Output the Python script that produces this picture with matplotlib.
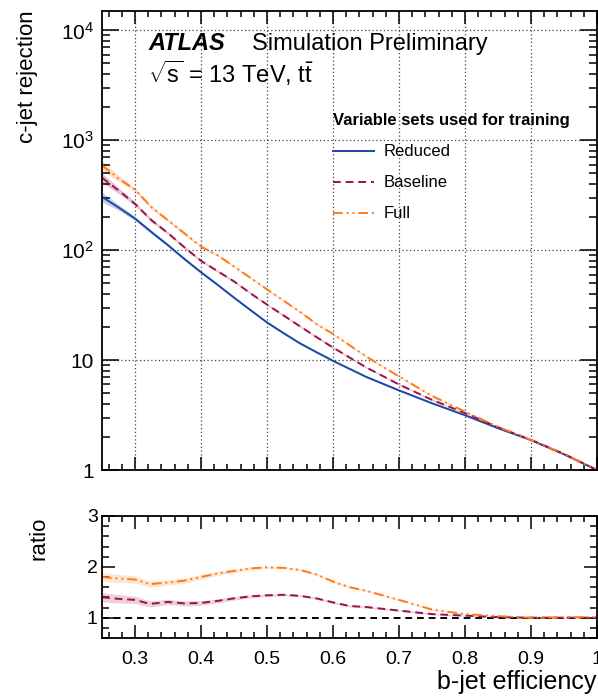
import numpy as np
import matplotlib
matplotlib.use("Agg")
from matplotlib import pyplot as plt
from matplotlib import ticker

plt.rcParams['font.family'] = ['Liberation Sans', 'DejaVu Sans']
plt.rcParams['mathtext.fontset'] = 'custom'
plt.rcParams['mathtext.rm'] = 'Liberation Sans'
plt.rcParams['mathtext.it'] = 'Liberation Sans:italic'
plt.rcParams['mathtext.bf'] = 'Liberation Sans:bold'

# c-jet rejection vs b-jet efficiency
eff = [0.25, 0.275, 0.30, 0.325, 0.35, 0.375, 0.40, 0.425, 0.45, 0.475, 0.50, 0.525,
       0.55, 0.575, 0.60, 0.65, 0.70, 0.75, 0.80, 0.85, 0.90, 0.95, 1.0]
rej_reduced = [305, 245, 194, 146, 111, 83, 63, 48.5, 37, 28.5, 22.0, 17.6,
               14.2, 11.8, 9.85, 7.05, 5.3, 4.05, 3.15, 2.40, 1.87, 1.39, 1.0]
rej_baseline = [456, 350, 264, 187, 143, 106, 80, 64.5, 52, 40.5, 32, 25.5,
                20.3, 16.2, 13.0, 8.6, 6.0, 4.35, 3.3, 2.45, 1.88, 1.40, 1.0]
rej_full = [590, 450, 355, 246, 187, 142, 108, 90, 71, 56, 44, 34.8,
            27.5, 21.3, 17.3, 10.8, 7.1, 4.72, 3.4, 2.47, 1.88, 1.40, 1.0]
# relative stat. uncertainty shown as a thin band
rel_err = [0.10, 0.06, 0.04, 0.035, 0.03, 0.03, 0.025, 0.025, 0.02, 0.02, 0.02, 0.02,
           0.02, 0.02, 0.02, 0.015, 0.015, 0.015, 0.01, 0.01, 0.01, 0.01, 0.01]

# ratio to Reduced
eff_r = [0.25, 0.275, 0.30, 0.3225, 0.35, 0.375, 0.40, 0.425, 0.45, 0.475, 0.50, 0.525,
         0.55, 0.575, 0.60, 0.625, 0.65, 0.70, 0.75, 0.80, 0.85, 0.90, 0.95, 1.0]
ratio_baseline = [1.40, 1.37, 1.35, 1.27, 1.31, 1.28, 1.29, 1.33, 1.38, 1.42, 1.44, 1.45,
                  1.43, 1.38, 1.30, 1.23, 1.21, 1.14, 1.07, 1.04, 1.01, 1.00, 1.00, 1.00]
ratio_full = [1.80, 1.77, 1.75, 1.66, 1.69, 1.73, 1.80, 1.87, 1.92, 1.97, 1.99, 1.98,
              1.94, 1.85, 1.71, 1.60, 1.53, 1.35, 1.16, 1.07, 1.03, 1.00, 1.01, 1.01]
ratio_err = [0.09, 0.08, 0.07, 0.06, 0.05, 0.05, 0.045, 0.04, 0.035, 0.03, 0.025, 0.02,
             0.02, 0.02, 0.02, 0.02, 0.02, 0.015, 0.015, 0.01, 0.01, 0.01, 0.01, 0.01]

c_red = '#1b48a6'
c_base = '#9c124a'
c_full = '#ff7a14'

eff = np.array(eff)
rel_err = np.array(rel_err)
eff_r = np.array(eff_r)
ratio_err = np.array(ratio_err)

fig = plt.figure(figsize=(5.98, 6.98), dpi=100)
ax = fig.add_axes([102/598, 228/698, 495/598, 459/698])
axr = fig.add_axes([102/598, 60/698, 495/598, 122/698])

# main panel
for vals, col, ls, lab in [(rej_reduced, c_red, '-', 'Reduced'),
                           (rej_baseline, c_base, (0, (4, 2.5)), 'Baseline'),
                           (rej_full, c_full, (0, (5, 2, 1, 2, 1, 2)), 'Full')]:
    v = np.array(vals)
    ax.fill_between(eff, v*(1-rel_err), v*(1+rel_err), color=col, alpha=0.25, lw=0)
    ax.plot(eff, v, color=col, ls=ls, lw=1.4, label=lab)

ax.set_yscale('log')
ax.set_xlim(0.25, 1.0)
ax.set_ylim(1, 1.5e4)
ax.yaxis.set_major_locator(ticker.FixedLocator([1, 10, 100, 1000, 10000]))
ax.yaxis.set_major_formatter(ticker.FixedFormatter(['1', '10', r'$\mathrm{10^{2}}$',
                                                    r'$\mathrm{10^{3}}$', r'$\mathrm{10^{4}}$']))
ax.yaxis.set_minor_locator(ticker.LogLocator(base=10, subs=np.arange(2, 10)))
ax.yaxis.set_minor_formatter(ticker.NullFormatter())
ax.xaxis.set_major_locator(ticker.MultipleLocator(0.1))
ax.xaxis.set_minor_locator(ticker.MultipleLocator(0.02))
ax.tick_params(axis='x', labelbottom=False)
ax.grid(True, which='major', color='#444444', ls=(0, (1, 2)), lw=0.9)

# ratio panel
axr.fill_between(eff_r, np.array(ratio_baseline)-ratio_err, np.array(ratio_baseline)+ratio_err,
                 color=c_base, alpha=0.2, lw=0)
axr.fill_between(eff_r, np.array(ratio_full)-ratio_err, np.array(ratio_full)+ratio_err,
                 color=c_full, alpha=0.2, lw=0)
axr.axhline(1, color='black', ls=(0, (3.5, 2.5)), lw=1.4)
axr.plot(eff_r, ratio_baseline, color=c_base, ls=(0, (4, 2.5)), lw=1.4)
axr.plot(eff_r, ratio_full, color=c_full, ls=(0, (5, 2, 1, 2, 1, 2)), lw=1.4)
axr.set_xlim(0.25, 1.0)
axr.set_ylim(0.6, 3)
axr.yaxis.set_major_locator(ticker.FixedLocator([1, 2, 3]))
axr.yaxis.set_minor_locator(ticker.MultipleLocator(0.2))
axr.xaxis.set_major_locator(ticker.MultipleLocator(0.1))
axr.xaxis.set_minor_locator(ticker.MultipleLocator(0.02))
axr.xaxis.set_major_formatter(ticker.FuncFormatter(lambda v, p: '%g' % round(v, 2)))

for a in (ax, axr):
    for s in a.spines.values():
        s.set_linewidth(1.3)
    a.tick_params(which='both', direction='in', top=True, right=True, width=1.1)
    a.tick_params(axis='x', which='major', length=9.5, labelsize=14, pad=9)
    a.tick_params(axis='x', which='minor', length=4.5)
ax.tick_params(axis='y', which='major', length=12, labelsize=15, pad=6)
ax.tick_params(axis='y', which='minor', length=6)
axr.tick_params(axis='y', which='major', length=9.5, labelsize=14, pad=3)
axr.tick_params(axis='y', which='minor', length=5)

# labels
fig.text(27/598, 1 - 10/698, 'c-jet rejection', rotation=90, ha='center', va='top', fontsize=16)
fig.text(39/598, 1 - 517/698, 'ratio', rotation=90, ha='center', va='top', fontsize=16)
fig.text(596/598, 1 - 670/698, 'b-jet efficiency', ha='right', va='top', fontsize=18)

ax.text(0.093, 0.915, 'ATLAS', transform=ax.transAxes, fontsize=17,
        fontweight='bold', fontstyle='italic', va='baseline')
ax.text(0.303, 0.915, 'Simulation Preliminary', transform=ax.transAxes, fontsize=17, va='baseline')
ax.text(0.093, 0.843, r'$\sqrt{\mathrm{s}}$ = 13 TeV, $\mathrm{t\bar{t}}$', transform=ax.transAxes,
        fontsize=17, va='baseline')

leg = ax.legend(loc='upper left', bbox_to_anchor=(0.466, 0.777), frameon=False, fontsize=12,
                title='Variable sets used for training',
                title_fontproperties={'weight': 'bold', 'size': 12},
                alignment='left', handlelength=2.5, handletextpad=0.54,
                labelspacing=0.96, borderpad=0, borderaxespad=0)

fig.savefig('out.png', dpi=100)
